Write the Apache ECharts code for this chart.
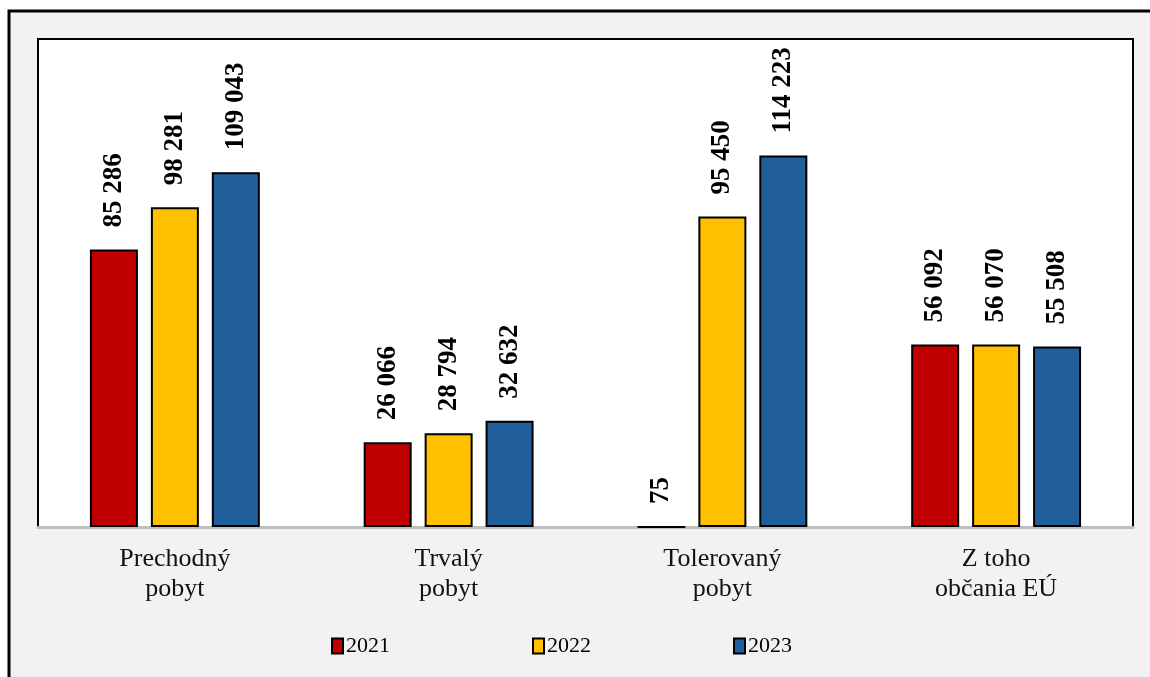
<!DOCTYPE html>
<html>
<head>
<meta charset="utf-8">
<script src="https://cdn.jsdelivr.net/npm/echarts@6/dist/echarts.min.js"></script>
<style>
  html, body { margin: 0; padding: 0; background: #fff; }
  #chart { width: 1150px; height: 677px; }
</style>
</head>
<body>
<div id="chart"></div>
<script>
// data
const categories = ['Prechodný\npobyt', 'Trvalý\npobyt', 'Tolerovaný\npobyt', 'Z toho\nobčania EÚ'];
const years = ['2021', '2022', '2023'];
const values2021 = [85286, 26066, 75, 56092];
const values2022 = [98281, 28794, 95450, 56070];
const values2023 = [109043, 32632, 114223, 55508];
const colors = ['#C00000', '#FFC000', '#215F9A'];

const serif = "'Liberation Serif', 'Times New Roman', serif";

function fmt(v) {
  return String(v).replace(/\B(?=(\d{3})+(?!\d))/g, ' ');
}

function makeSeries(name, data, color) {
  return {
    name: name,
    type: 'bar',
    data: data,
    barWidth: 48,
    barGap: '27%',
    itemStyle: { color: color, borderColor: '#000', borderWidth: 2 },
    label: {
      show: true,
      position: 'top',
      distance: 22,
      rotate: 90,
      align: 'left',
      verticalAlign: 'middle',
      fontFamily: serif,
      fontWeight: 'bold',
      fontSize: 27,
      color: '#000',
      formatter: p => fmt(p.value)
    }
  };
}

const legendLefts = [326, 527, 728];

const chart = echarts.init(document.getElementById('chart'));
chart.setOption({
  backgroundColor: '#fff',
  animation: false,
  graphic: [{
    type: 'rect',
    z: -10,
    shape: { x: 9, y: 11, width: 1200, height: 720 },
    style: { fill: '#f2f2f2', stroke: '#000', lineWidth: 3 }
  }],
  grid: {
    left: 38, right: 17, top: 39, bottom: 150,
    show: true, backgroundColor: '#fff', borderColor: '#000', borderWidth: 2
  },
  legend: years.map((y, i) => ({
    data: [y],
    left: legendLefts[i],
    top: 630,
    icon: 'rect',
    itemWidth: 11,
    itemHeight: 15,
    itemGap: 4,
    textStyle: { fontFamily: serif, fontSize: 22, color: '#000', padding: [0, 0, 0, -2] }
  })),
  xAxis: {
    type: 'category',
    data: categories,
    axisLine: { lineStyle: { color: '#bfbfbf', width: 3 } },
    axisTick: { show: false },
    axisLabel: {
      margin: 17,
      fontFamily: serif,
      fontSize: 26,
      lineHeight: 30,
      color: '#111'
    }
  },
  yAxis: {
    type: 'value',
    min: 0,
    max: 150000,
    show: false,
    splitLine: { show: false }
  },
  series: [
    makeSeries(years[0], values2021, colors[0]),
    makeSeries(years[1], values2022, colors[1]),
    makeSeries(years[2], values2023, colors[2])
  ]
});
</script>
</body>
</html>
